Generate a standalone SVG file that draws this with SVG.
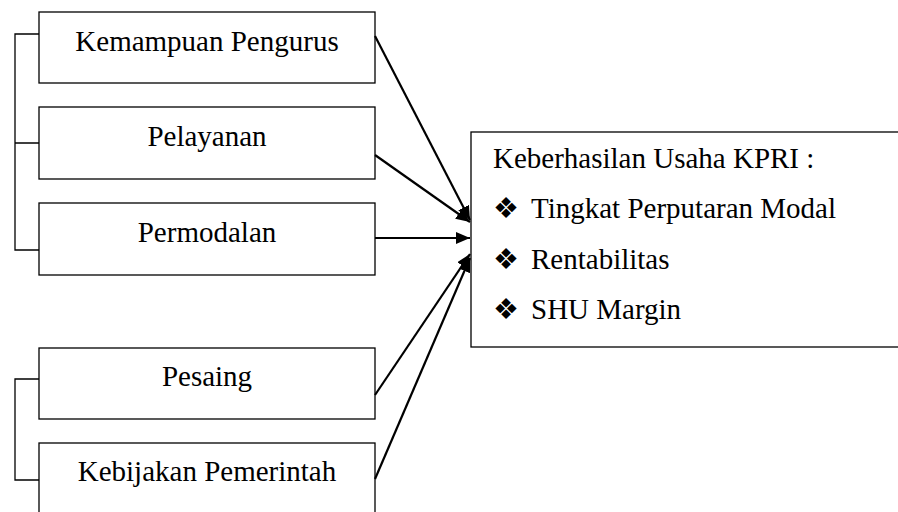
<svg xmlns="http://www.w3.org/2000/svg" width="898" height="512" viewBox="0 0 898 512">
<style>
.box{fill:#fff;stroke:#000;stroke-width:1.3}
.t{font-family:"Liberation Serif","Times New Roman",serif;font-size:29px;fill:#000}
.c{text-anchor:middle}
.b{font-family:"DejaVu Sans",sans-serif;font-size:29px;fill:#000}
.br{fill:none;stroke:#000;stroke-width:1.3}
.ar{fill:none;stroke:#000;stroke-width:2.2;marker-end:url(#ah)}
</style>
<defs>
<marker id="ah" markerUnits="userSpaceOnUse" markerWidth="16" markerHeight="12" refX="14" refY="6" orient="auto">
<path d="M0,0 L14,6 L0,12 Z" fill="#000"/>
</marker>
</defs>
<rect width="898" height="512" fill="#fff"/>
<g id="bracket-top"><path class="br" d="M39,34 H15 V250 H39 M15,143 H39"/></g>
<g id="bracket-bottom"><path class="br" d="M39,379 H15 V480 H39"/></g>
<g id="n1"><rect class="box" x="39" y="12" width="336" height="71"/><text class="t c" x="207" y="51">Kemampuan Pengurus</text></g>
<g id="n2"><rect class="box" x="39" y="107" width="336" height="72"/><text class="t c" x="207" y="146">Pelayanan</text></g>
<g id="n3"><rect class="box" x="39" y="203" width="336" height="72"/><text class="t c" x="207" y="242">Permodalan</text></g>
<g id="n4"><rect class="box" x="39" y="348" width="336" height="71"/><text class="t c" x="207" y="386">Pesaing</text></g>
<g id="n5"><rect class="box" x="39" y="443" width="336" height="80"/><text class="t c" x="207" y="481">Kebijakan Pemerintah</text></g>
<g id="target"><rect class="box" x="471" y="132" width="440" height="215"/>
<text class="t" x="493" y="168">Keberhasilan Usaha KPRI :</text>
<text class="b" x="493" y="218">❖</text><text class="t" x="531" y="218">Tingkat Perputaran Modal</text>
<text class="b" x="493" y="269">❖</text><text class="t" x="531" y="269">Rentabilitas</text>
<text class="b" x="493" y="319">❖</text><text class="t" x="531" y="319">SHU Margin</text>
</g>
<g id="connectors">
<line class="ar" x1="375" y1="36" x2="470" y2="220"/>
<line class="ar" x1="375" y1="155" x2="470" y2="222"/>
<line class="ar" x1="375" y1="238" x2="470" y2="238"/>
<line class="ar" x1="375" y1="395" x2="470" y2="254"/>
<line class="ar" x1="375" y1="479" x2="470" y2="258"/>
</g>
</svg>
